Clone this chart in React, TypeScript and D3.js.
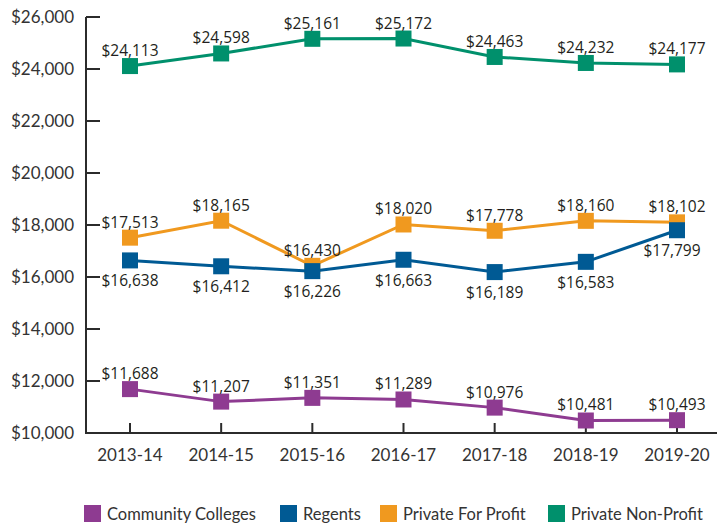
import React from "react";
import * as d3 from "d3";

const categories = ["2013-14", "2014-15", "2015-16", "2016-17", "2017-18", "2018-19", "2019-20"];
const communityColleges = [11688, 11207, 11351, 11289, 10976, 10481, 10493];
const regents = [16638, 16412, 16226, 16663, 16189, 16583, 17799];
const privateForProfit = [17513, 18165, 16430, 18020, 17778, 18160, 18102];
const privateNonProfit = [24113, 24598, 25161, 25172, 24463, 24232, 24177];
const yTicks = [10000, 12000, 14000, 16000, 18000, 20000, 22000, 24000, 26000];

const series = [
  { name: "Community Colleges", values: communityColleges, color: "#8e3b91", below: false },
  { name: "Regents", values: regents, color: "#005a94", below: true },
  { name: "Private For Profit", values: privateForProfit, color: "#f0991f", below: false },
  { name: "Private Non-Profit", values: privateNonProfit, color: "#00906c", below: false },
];
const drawOrder = [0, 2, 1, 3];

const legendX = [84, 280, 380, 548];

export default function App() {
  const W = 717, H = 527;
  const x = d3.scalePoint<string>().domain(categories).range([130, 677]);
  const y = d3.scaleLinear().domain([10000, 26000]).range([433, 17]);
  const line = d3.line<number>().x((_, i) => x(categories[i])!).y((d) => y(d));
  const fmt = (v: number) => "$" + d3.format(",")(v);
  const axisFont = "Lato, 'Open Sans', sans-serif";
  const labelFont = "'Open Sans', 'Noto Sans', sans-serif";
  const axisColor = "#2b2b2b";
  const textColor = "#333333";

  return (
    <svg width={W} height={H} style={{ position: "absolute", left: 0, top: 0, background: "#fff" }}>
      {/* axes */}
      <line x1={86} x2={86} y1={y(26000)} y2={434} stroke={axisColor} strokeWidth={2} />
      <line x1={85} x2={717} y1={433} y2={433} stroke={axisColor} strokeWidth={2} />
      {yTicks.map((t) => (
        <g key={t}>
          <line x1={86} x2={100} y1={y(t)} y2={y(t)} stroke={axisColor} strokeWidth={2} />
          <text x={74} y={y(t)} dy="0.35em" textAnchor="end" fontFamily={axisFont} fontSize={17} fill={textColor}>
            {fmt(t)}
          </text>
        </g>
      ))}
      {categories.map((c) => (
        <g key={c}>
          <line x1={x(c)} x2={x(c)} y1={423} y2={433} stroke={axisColor} strokeWidth={2} />
          <text x={x(c)} y={455} dy="0.35em" textAnchor="middle" fontFamily={axisFont} fontSize={17} fill={textColor}>
            {c}
          </text>
        </g>
      ))}
      {/* series */}
      {drawOrder.map((k) => {
        const s = series[k];
        return (
          <g key={s.name}>
            <path d={line(s.values)!} fill="none" stroke={s.color} strokeWidth={3} />
            {s.values.map((v, i) => (
              <rect key={i} x={x(categories[i])! - 8} y={y(v) - 8} width={16} height={16} fill={s.color} />
            ))}
          </g>
        );
      })}
      {series.map((s) =>
        s.values.map((v, i) => {
          const last = i === s.values.length - 1;
          const dx = s.below && last ? -5 : 0;
          return (
            <text
              key={s.name + i}
              x={x(categories[i])! + dx}
              y={y(v) + (s.below ? 26 : -10)}
              textAnchor="middle"
              fontFamily={labelFont}
              fontSize={15.5}
              fill="#231f20"
            >
              {fmt(v)}
            </text>
          );
        })
      )}
      {/* legend */}
      {series.map((s, i) => (
        <g key={s.name} transform={`translate(${legendX[i]},505)`}>
          <rect x={0} y={0} width={17} height={17} fill={s.color} />
          <text x={23} y={9} dy="0.35em" fontFamily={axisFont} fontSize={16.5} fill={textColor}>
            {s.name}
          </text>
        </g>
      ))}
    </svg>
  );
}
